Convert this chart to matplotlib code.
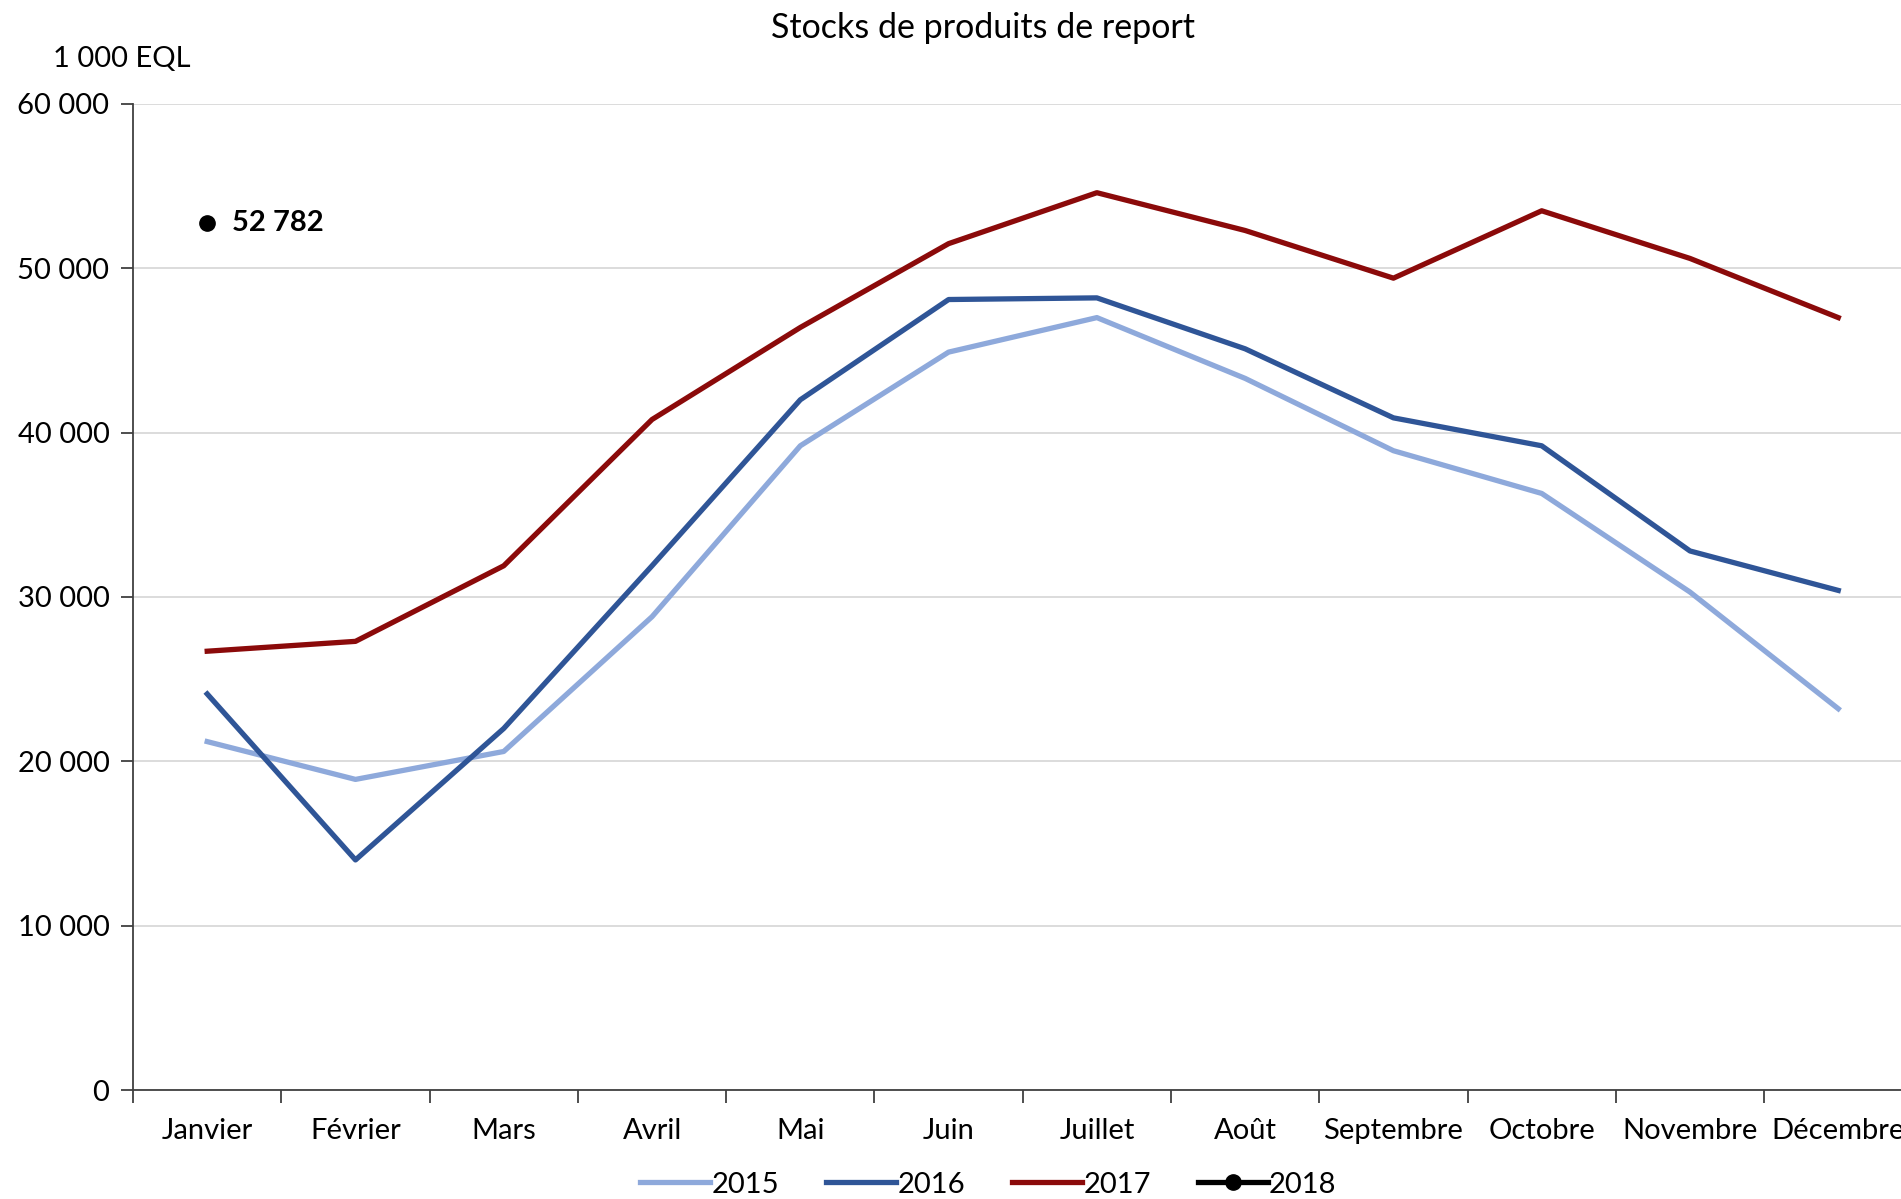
import matplotlib
matplotlib.use("Agg")
import matplotlib.pyplot as plt
import numpy as np
from matplotlib.ticker import FuncFormatter, FixedLocator

plt.rcParams['font.family'] = ['Lato', 'DejaVu Sans']

# Data (1 000 EQL)
months = ["Janvier", "Février", "Mars", "Avril", "Mai", "Juin", "Juillet",
          "Août", "Septembre", "Octobre", "Novembre", "Décembre"]
stocks_2015 = [21200, 18900, 20600, 28800, 39200, 44900, 47000, 43300, 38900, 36300, 30300, 23200]
stocks_2016 = [24100, 14000, 22000, 31900, 42000, 48100, 48200, 45100, 40900, 39200, 32800, 30400]
stocks_2017 = [26700, 27300, 31900, 40800, 46400, 51500, 54600, 52300, 49400, 53500, 50600, 47000]
stocks_2018 = [52782]

colors = {"2015": "#8EA9DB", "2016": "#2F5597", "2017": "#8B0A0A", "2018": "#000000"}

fig = plt.figure(figsize=(19.01, 11.99), dpi=100)
ax = fig.add_axes([0.070, 0.0909, 0.936, 0.8224])

x = np.arange(len(months))
ax.plot(x, stocks_2015, color=colors["2015"], lw=3.8, label="2015")
ax.plot(x, stocks_2016, color=colors["2016"], lw=3.8, label="2016")
ax.plot(x, stocks_2017, color=colors["2017"], lw=3.8, label="2017")
ax.plot(x[:len(stocks_2018)], stocks_2018, color=colors["2018"], lw=3.8,
        marker="o", markersize=11, label="2018")
for xi, v in zip(x, stocks_2018):
    ax.annotate(f"{v:,}".replace(",", " "), (xi, v), xytext=(18, 0),
                textcoords="offset points", va="center", ha="left",
                fontsize=21, fontweight="bold")

ax.set_xlim(-0.5, 11.5)
ax.set_ylim(0, 60000)
ax.set_yticks(np.arange(0, 60001, 10000))
ax.yaxis.set_major_formatter(FuncFormatter(lambda v, p: f"{int(v):,}".replace(",", " ")))
ax.grid(axis="y", color="#D9D9D9", lw=1.3)
ax.set_axisbelow(True)

ax.xaxis.set_major_locator(FixedLocator(np.arange(-0.5, 12, 1)))
ax.xaxis.set_minor_locator(FixedLocator(x))
ax.set_xticklabels([])
ax.set_xticklabels(months, minor=True)
ax.tick_params(axis="x", which="major", direction="out", length=9, width=1.3, color="#404040")
ax.tick_params(axis="x", which="minor", length=0, pad=20, labelsize=21)
ax.tick_params(axis="y", direction="out", length=9, width=1.3, color="#404040", labelsize=21, pad=8)

for s in ["top", "right"]:
    ax.spines[s].set_visible(False)
for s in ["left", "bottom"]:
    ax.spines[s].set_color("#404040")
    ax.spines[s].set_linewidth(1.3)

fig.text(0.517, 0.977, "Stocks de produits de report", ha="center", va="center", fontsize=24.5)
fig.text(0.028, 0.951, "1 000 EQL", ha="left", va="center", fontsize=21)

fig.legend(loc="center", bbox_to_anchor=(0.52, 0.012), ncol=4, frameon=False,
           fontsize=21, handlelength=2.4, handletextpad=0.05, columnspacing=1.6)

fig.savefig("out.png", dpi=100)
